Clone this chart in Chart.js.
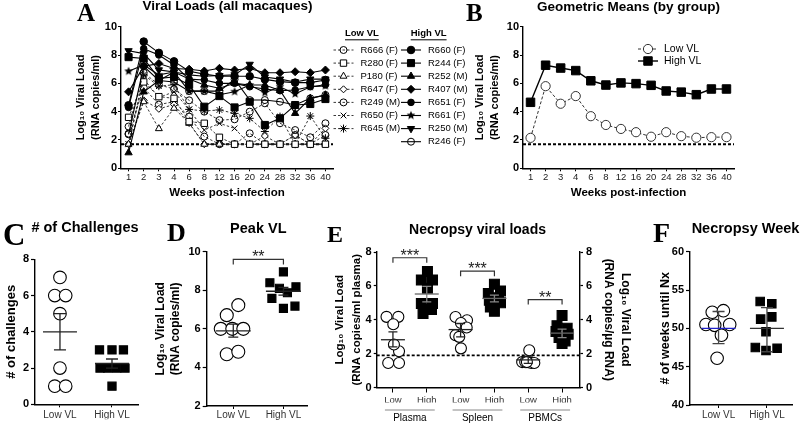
<!DOCTYPE html>
<html>
<head>
<meta charset="utf-8">
<title>Viral loads</title>
<script src="https://cdn.jsdelivr.net/npm/chart.js"></script>
<style>
html, body { margin: 0; padding: 0; background: #fff; }
#fig { position: relative; width: 800px; height: 424px; overflow: hidden; font-family: 'Liberation Sans', Arial, sans-serif; }
#fig canvas { position: absolute; left: 0; top: 0; }
.letter { position: absolute; font-family: 'Liberation Serif', 'Times New Roman', serif; font-weight: bold; line-height: 1; white-space: nowrap; }
.title { position: absolute; font-weight: bold; line-height: 1; white-space: nowrap; text-align: center; width: 200px; }
</style>
</head>
<body>
<div id="fig">
  <canvas id="chartA" width="800" height="424"></canvas>
  <canvas id="chartB" width="800" height="424"></canvas>
  <canvas id="chartC" width="800" height="424"></canvas>
  <canvas id="chartD" width="800" height="424"></canvas>
  <canvas id="chartE" width="800" height="424"></canvas>
  <canvas id="chartF" width="800" height="424"></canvas>

  <div class="letter" style="left:77px;top:0px;font-size:25px">A</div>
  <div class="letter" style="left:466px;top:0px;font-size:25px">B</div>
  <div class="letter" style="left:3px;top:219px;font-size:31px">C</div>
  <div class="letter" style="left:167px;top:220px;font-size:26px">D</div>
  <div class="letter" style="left:327px;top:222px;font-size:24px">E</div>
  <div class="letter" style="left:653px;top:218.5px;font-size:28px">F</div>

  <div class="title" style="left:127.5px;top:-1px;font-size:13.5px">Viral Loads (all macaques)</div>
  <div class="title" style="left:528.5px;top:-0.5px;font-size:13.5px">Geometric Means (by group)</div>
  <div class="title" style="left:-15px;top:220.4px;font-size:14.5px"># of Challenges</div>
  <div class="title" style="left:158.3px;top:221px;font-size:14.5px">Peak VL</div>
  <div class="title" style="left:377.5px;top:222.4px;font-size:14px">Necropsy viral loads</div>
  <div class="title" style="left:645.5px;top:221px;font-size:14.5px">Necropsy Week</div>
</div>

<script>
// ---- data ----
const weeks = ['1', '2', '3', '4', '6', '8', '12', '16', '20', '24', '28', '32', '36', '40'];
const lod = 1.7;

// Low VL animals (log10 copies/ml)
const r666 = [2.95, 6.75, 5.9, 5.6, 4.8, 4.0, 3.4, 3.46, 4.0, 4.59, 3.18, 2.7, 2.19, 3.18];
const r280 = [3.6, 6.1, 5.06, 4.94, 3.3, 3.18, 2.19, 1.7, 1.7, 1.7, 1.7, 1.7, 1.7, 1.7];
const p180 = [1.7, 4.7, 2.8, 4.24, 3.18, 1.7, 1.7, 1.7, 1.7, 1.7, 1.7, 1.7, 1.7, 1.7];
const r647 = [1.7, 4.8, 4.2, 4.5, 3.2, 1.7, 1.7, 1.7, 1.7, 2.28, 1.7, 2.35, 1.7, 2.82];
const r249 = [2.45, 5.7, 4.5, 4.7, 3.65, 2.24, 1.7, 1.7, 2.47, 1.7, 1.7, 2.35, 1.7, 2.35];
const r650 = [1.7, 6.3, 5.0, 5.4, 4.16, 2.7, 3.18, 2.82, 1.7, 1.7, 1.7, 1.7, 1.7, 1.7];
const r645 = [1.7, 6.6, 5.8, 5.9, 4.16, 4.05, 4.12, 3.88, 3.53, 2.6, 3.65, 1.7, 3.69, 2.12];

// High VL animals
const r660 = [4.45, 8.95, 8.15, 7.55, 6.85, 6.65, 6.5, 6.5, 6.5, 6.28, 6.12, 6.05, 6.05, 6.24];
const r244 = [7.85, 7.75, 6.35, 6.45, 5.9, 4.35, 5.1, 4.3, 4.7, 3.06, 3.53, 4.47, 4.54, 4.89];
const r252 = [1.1, 5.4, 6.2, 6.8, 6.3, 5.88, 5.65, 6.0, 5.88, 5.88, 5.5, 3.88, 4.94, 5.18];
const r407 = [5.4, 7.2, 7.4, 7.05, 7.0, 6.87, 7.06, 6.94, 7.05, 6.75, 6.75, 6.82, 6.75, 6.94];
const r651 = [4.3, 8.45, 8.0, 7.3, 6.3, 6.24, 6.0, 6.0, 5.76, 5.6, 5.48, 5.53, 5.76, 5.9];
const r661 = [6.85, 7.3, 6.6, 6.8, 5.45, 5.45, 5.2, 5.41, 5.88, 5.34, 5.76, 5.25, 5.76, 5.81];
const r250 = [8.3, 8.1, 6.95, 6.8, 6.6, 6.5, 6.55, 6.6, 7.34, 6.45, 6.3, 6.1, 6.3, 6.3];
const r246 = [2.4, 7.2, 6.2, 6.1, 5.45, 5.45, 5.45, 6.28, 4.82, 4.82, 4.7, 4.47, 4.94, 5.18];

const lowNames = ['R666 (F)', 'R280 (F)', 'P180 (F)', 'R647 (F)', 'R249 (M)', 'R650 (F)', 'R645 (M)'];
const highNames = ['R660 (F)', 'R244 (F)', 'R252 (M)', 'R407 (M)', 'R651 (F)', 'R661 (F)', 'R250 (M)', 'R246 (F)'];
const lowSeries = [r666, r280, p180, r647, r249, r650, r645];
const highSeries = [r660, r244, r252, r407, r651, r661, r250, r246];

// geometric means by group
const gmLow = [2.15, 5.8, 4.56, 5.1, 3.68, 3.06, 2.78, 2.55, 2.23, 2.55, 2.27, 2.16, 2.2, 2.2];
const gmHigh = [4.66, 7.28, 7.08, 6.9, 6.18, 5.88, 6.03, 5.98, 5.86, 5.46, 5.38, 5.2, 5.6, 5.6];

const groupCats = ['Low VL', 'High VL'];

// C: number of challenges
const challLow = [7, 6, 6, 5, 2, 1, 1];
const challHigh = [3, 3, 3, 2, 2, 2, 2, 1];
const challMean = [4, 2.25];
const challSemLo = [3, 2.0];
const challSemHi = [5, 2.5];

// D: peak VL
const peakLow = [7.23, 6.71, 6.0, 6.0, 6.0, 4.68, 4.81];
const peakHigh = [8.95, 8.39, 8.1, 8.18, 7.58, 7.87, 7.06, 7.18];
const peakMean = [5.9, 7.95];
const peakSemLo = [5.57, 7.75];
const peakSemHi = [6.25, 8.15];

// E: necropsy viral loads
const tissues = ['Plasma', 'Spleen', 'PBMCs'];
const levels = ['Low', 'High'];
const plasmaLow = [4.17, 4.17, 3.73, 2.14, 2.54, 1.45, 1.45];
const plasmaHigh = [6.85, 6.35, 6.35, 5.86, 4.96, 4.96, 4.37, 4.6];
const spleenLow = [4.16, 3.97, 3.81, 3.09, 3.54, 2.99, 2.31];
const spleenHigh = [6.1, 5.7, 5.55, 5.3, 5.15, 5.0, 4.75, 4.5];
const pbmcLow = [2.2, 1.5, 1.5, 1.5, 1.45, 1.45, 1.5];
const pbmcHigh = [4.25, 3.65, 3.5, 3.3, 3.15, 2.95, 2.75, 2.6];
const necMean = [2.82, 5.52, 3.42, 5.26, 1.63, 3.21];
const necSemLo = [2.4, 5.05, 2.99, 5.05, 1.42, 2.95];
const necSemHi = [3.28, 5.97, 3.78, 5.45, 1.85, 3.45];
const necLod = 1.9;

// F: necropsy week
const weekLow = [52.1, 52.3, 50.5, 50.4, 50.5, 49.1, 46.1];
const weekHigh = [53.5, 53.2, 51.2, 51.5, 49.56, 47.5, 47.1, 47.4];
const weekMean = [50.0, 50.0];
const weekSdLo = [48.0, 46.95];
const weekSdHi = [52.2, 52.7];

// horizontal scatter of the dots (category units)
const challLowJit = [0, -0.1, 0.11, 0, 0, -0.1, 0.11];
const challHighJit = [-0.24, 0, 0.22, -0.23, -0.08, 0.09, 0.25, 0];
const peakLowJit = [0.1, -0.13, -0.25, -0.02, 0.2, -0.13, 0.1];
const peakHighJit = [0, -0.27, -0.08, 0.25, -0.23, 0.08, 0, 0.23];
const plasmaLowJit = [-0.19, 0.16, 0.01, 0.18, 0.03, -0.14, 0.18];
const plasmaHighJit = [0.02, -0.16, 0.17, 0.02, -0.16, 0.17, -0.11, 0.14];
const spleenLowJit = [-0.15, 0.19, 0.01, -0.15, 0.18, -0.04, 0.01];
const spleenHighJit = [0, 0.18, -0.18, 0.12, -0.15, 0.18, -0.12, 0];
const pbmcLowJit = [0.03, -0.18, -0.09, 0, 0.09, 0.18, -0.04];
const pbmcHighJit = [0, -0.15, 0.15, -0.18, 0.18, -0.09, 0.09, 0];
const weekLowJit = [-0.13, 0.1, -0.26, -0.08, 0.23, 0.06, -0.03];
const weekHighJit = [-0.14, 0.1, -0.13, 0.1, -0.02, -0.24, -0.02, 0.21];

// ---- setup ----
const FONT = "'Liberation Sans', Arial, sans-serif";
Chart.defaults.font.family = FONT;
Chart.defaults.color = '#000';
Chart.defaults.animation = false;
Chart.defaults.responsive = false;
Chart.defaults.plugins.legend.display = false;
Chart.defaults.plugins.tooltip.enabled = false;

const zeroPad = s => { s.paddingTop = s.paddingBottom = s.paddingLeft = s.paddingRight = 0; };

function yScale(o) {
    return {
        type: 'linear', position: o.pos || 'left', min: o.min, max: o.max,
        ticks: { stepSize: o.step, font: { size: 11, weight: 'bold' }, color: '#000', padding: o.pad },
        grid: { drawOnChartArea: false, drawTicks: true, tickLength: o.tick, color: '#000', tickWidth: 1.2 },
        border: { color: '#000', width: 1.4 },
        title: { display: true, text: o.title, color: '#000', padding: 0, font: { size: o.tsize, weight: 'bold', lineHeight: o.lh } },
        afterFit(s) { s.width = o.w; zeroPad(s); }
    };
}

function catX(h) {
    return {
        type: 'category', offset: true,
        ticks: { font: { size: 9.5 }, color: '#222', padding: 0.5, autoSkip: false, maxRotation: 0 },
        grid: { drawOnChartArea: false, tickLength: 3, color: '#000', offset: false },
        border: { color: '#000', width: 1.4 },
        title: { display: true, text: 'Weeks post-infection', color: '#000', padding: 0, font: { size: 11.5, weight: 'bold', lineHeight: 1.2 } },
        afterFit(s) { s.height = h; zeroPad(s); }
    };
}

function dotX(cats, o) {
    return {
        type: 'linear', min: o.min, max: o.max,
        afterBuildTicks(s) { s.ticks = cats.map((c, i) => ({ value: i })); },
        ticks: { callback: v => cats[Math.round(v)], font: { size: o.fs || 10 }, color: '#333', padding: o.pad, autoSkip: false, maxRotation: 0 },
        grid: { drawOnChartArea: false, tickLength: o.tick, color: '#000' },
        border: { color: '#000', width: 1.4 },
        afterFit(s) { s.height = o.h; zeroPad(s); }
    };
}

function dots(vals, jit, cat, shape, r, fill, axis) {
    return {
        type: 'scatter', yAxisID: axis || 'y', clip: false,
        data: vals.map((v, i) => ({ x: cat + jit[i], y: v })),
        pointStyle: shape, pointRadius: r, pointBackgroundColor: fill,
        pointBorderColor: '#000', pointBorderWidth: 1.1, showLine: false
    };
}

function starImg(r) {
    const c = document.createElement('canvas');
    const s = Math.ceil(r * 2) + 2;
    c.width = c.height = s;
    const g = c.getContext('2d');
    g.fillStyle = '#000';
    g.beginPath();
    for (let i = 0; i < 10; i++) {
        const a = -Math.PI / 2 + i * Math.PI / 5;
        const rr = i % 2 ? r * 0.45 : r;
        g.lineTo(s / 2 + rr * Math.cos(a), s / 2 + rr * Math.sin(a));
    }
    g.closePath();
    g.fill();
    return c;
}

// ---- plugins ----
const refLine = {
    id: 'refLine',
    beforeDatasetsDraw(chart, args, o) {
        if (o.value == null) return;
        const { ctx, chartArea } = chart;
        const y = chart.scales[o.axis || 'y'].getPixelForValue(o.value);
        ctx.save();
        ctx.strokeStyle = '#000';
        ctx.lineWidth = 1.8;
        ctx.setLineDash([3, 2]);
        ctx.beginPath();
        ctx.moveTo(chartArea.left, y);
        ctx.lineTo(chartArea.right, y);
        ctx.stroke();
        ctx.restore();
    }
};

const meanBars = {
    id: 'meanBars',
    afterDatasetsDraw(chart, args, o) {
        if (!o.items) return;
        const ctx = chart.ctx;
        const xs = chart.scales.x;
        ctx.save();
        ctx.lineWidth = 1.3;
        o.items.forEach(it => {
            const ys = chart.scales[it.axis || 'y'];
            const x = xs.getPixelForValue(it.cat);
            const ym = ys.getPixelForValue(it.mean);
            const y1 = ys.getPixelForValue(it.lo);
            const y2 = ys.getPixelForValue(it.hi);
            ctx.strokeStyle = it.barColor || '#222';
            ctx.beginPath();
            ctx.moveTo(x, y1); ctx.lineTo(x, y2);
            ctx.moveTo(x - o.cap, y1); ctx.lineTo(x + o.cap, y1);
            ctx.moveTo(x - o.cap, y2); ctx.lineTo(x + o.cap, y2);
            ctx.stroke();
            ctx.strokeStyle = it.meanColor || '#222';
            ctx.beginPath();
            ctx.moveTo(x - o.half, ym); ctx.lineTo(x + o.half, ym);
            ctx.stroke();
        });
        ctx.restore();
    }
};

const sigBars = {
    id: 'sigBars',
    afterDatasetsDraw(chart, args, o) {
        if (!o.items) return;
        const ctx = chart.ctx;
        const xs = chart.scales.x;
        ctx.save();
        o.items.forEach(it => {
            const ys = chart.scales[it.axis || 'y'];
            const x1 = xs.getPixelForValue(it.from), x2 = xs.getPixelForValue(it.to);
            const y = ys.getPixelForValue(it.level);
            ctx.strokeStyle = '#333';
            ctx.lineWidth = 1.2;
            ctx.beginPath();
            ctx.moveTo(x1, y + 5); ctx.lineTo(x1, y); ctx.lineTo(x2, y); ctx.lineTo(x2, y + 5);
            ctx.stroke();
            ctx.fillStyle = '#222';
            ctx.font = '16px ' + FONT;
            ctx.textAlign = 'center';
            ctx.textBaseline = 'alphabetic';
            ctx.fillText(it.text, (x1 + x2) / 2, y + 3);
        });
        ctx.restore();
    }
};

const groupAxis = {
    id: 'groupAxis',
    afterDraw(chart, args, o) {
        if (!o.groups) return;
        const ctx = chart.ctx;
        const xs = chart.scales.x;
        const base = chart.chartArea.bottom;
        ctx.save();
        o.groups.forEach(g => {
            const x1 = xs.getPixelForValue(g.from) - 8, x2 = xs.getPixelForValue(g.to) + 8;
            ctx.strokeStyle = '#888';
            ctx.lineWidth = 1;
            ctx.beginPath();
            ctx.moveTo(x1, base + 22.5); ctx.lineTo(x2, base + 22.5);
            ctx.stroke();
            ctx.fillStyle = '#000';
            ctx.font = '10px ' + FONT;
            ctx.textAlign = 'center';
            ctx.textBaseline = 'middle';
            ctx.fillText(g.label, (x1 + x2) / 2, base + 31);
        });
        ctx.restore();
    }
};

const lineLegend = {
    id: 'lineLegend',
    afterDraw(chart, args, o) {
        if (!o.items) return;
        const ctx = chart.ctx;
        ctx.save();
        ctx.textAlign = 'left';
        ctx.textBaseline = 'middle';
        (o.headers || []).forEach(h => {
            ctx.font = 'bold ' + o.size + 'px ' + FONT;
            ctx.fillStyle = '#000';
            ctx.fillText(h.text, h.x, h.y);
            const w = ctx.measureText(h.text).width;
            ctx.fillRect(h.x, h.y + 6, w, 1);
        });
        o.items.forEach(it => {
            const ds = chart.data.datasets[it.ds];
            ctx.strokeStyle = ds.borderColor;
            ctx.lineWidth = ds.borderWidth;
            ctx.setLineDash(ds.borderDash || []);
            ctx.beginPath();
            ctx.moveTo(it.x - 10, it.y); ctx.lineTo(it.x + 10, it.y);
            ctx.stroke();
            ctx.setLineDash([]);
            ctx.fillStyle = ds.pointBackgroundColor;
            ctx.strokeStyle = ds.pointBorderColor;
            ctx.lineWidth = ds.pointBorderWidth;
            Chart.helpers.drawPoint(ctx, {
                pointStyle: ds.pointStyle, rotation: ds.pointRotation || 0,
                radius: ds.pointRadius, borderWidth: ds.pointBorderWidth
            }, it.x, it.y);
            ctx.fillStyle = '#000';
            ctx.font = o.size + 'px ' + FONT;
            ctx.fillText(ds.label, it.x + o.dx, it.y);
        });
        ctx.restore();
    }
};

Chart.register(refLine, meanBars, sigBars, groupAxis, lineLegend);

// ---- A: all animals ----
const clear = 'rgba(255,255,255,0)';
const lowStyles = [
    { s: 'circle', r: 3.5, f: clear }, { s: 'rect', r: 4.5, f: '#fff' }, { s: 'triangle', r: 4, f: '#fff' },
    { s: 'rectRot', r: 3.5, f: '#fff' }, { s: 'circle', r: 3.5, f: clear }, { s: 'crossRot', r: 4, f: '#fff' },
    { s: 'star', r: 4, f: '#fff' }
];
const highStyles = [
    { s: 'circle', r: 3.8, f: '#000' }, { s: 'rect', r: 5, f: '#000' }, { s: 'triangle', r: 4.2, f: '#000' },
    { s: 'rectRot', r: 4, f: '#000' }, { s: 'circle', r: 3.3, f: '#000' }, { s: starImg(4.6), r: 4.6, f: '#000' },
    { s: 'triangle', r: 4.2, f: '#000', rot: 180 }, { s: 'circle', r: 3.5, f: clear }
];

const dsA = [];
highSeries.forEach((vals, i) => {
    const st = highStyles[i];
    dsA.push({
        label: highNames[i], data: vals, borderColor: '#000', borderWidth: 1.1,
        pointStyle: st.s, pointRadius: st.r, pointRotation: st.rot || 0, pointBackgroundColor: st.f,
        pointBorderColor: '#000', pointBorderWidth: 1, clip: false, tension: 0
    });
});
lowSeries.forEach((vals, i) => {
    const st = lowStyles[i];
    dsA.push({
        label: lowNames[i], data: vals, borderColor: '#222', borderWidth: 0.9, borderDash: [2.5, 2],
        pointStyle: st.s, pointRadius: st.r, pointBackgroundColor: st.f,
        pointBorderColor: '#000', pointBorderWidth: 1, clip: false, tension: 0
    });
});

const legendA = [];
lowNames.forEach((n, i) => legendA.push({ ds: highNames.length + i, x: 343.5, y: 50 + 13.1 * i }));
highNames.forEach((n, i) => legendA.push({ ds: i, x: 411, y: 50 + 13.1 * i }));

new Chart(document.getElementById('chartA'), {
    type: 'line',
    data: { labels: weeks, datasets: dsA },
    options: {
        layout: { padding: { left: 121 - 48.2, top: 26.7, right: 800 - 333, bottom: 424 - 168.3 - 31.3 } },
        scales: {
            x: catX(31.3),
            y: yScale({ min: 0, max: 10, step: 2, tick: 3, pad: 1, w: 48.2, tsize: 11, lh: 1.4,
                title: ['Log\u2081\u2080 Viral Load', '(RNA copies/ml)'] })
        },
        plugins: {
            refLine: { value: lod },
            lineLegend: {
                size: 9.5, dx: 17, items: legendA,
                headers: [{ text: 'Low VL', x: 345, y: 33.3 }, { text: 'High VL', x: 410.7, y: 33.3 }]
            }
        }
    }
});

// ---- B: geometric means ----
new Chart(document.getElementById('chartB'), {
    type: 'line',
    data: {
        labels: weeks,
        datasets: [
            { label: 'Low VL', data: gmLow, borderColor: '#333', borderWidth: 1, borderDash: [3, 2],
              pointStyle: 'circle', pointRadius: 4.6, pointBackgroundColor: '#fff', pointBorderColor: '#333', pointBorderWidth: 1, clip: false },
            { label: 'High VL', data: gmHigh, borderColor: '#000', borderWidth: 1.4,
              pointStyle: 'rect', pointRadius: 6, pointBackgroundColor: '#000', pointBorderColor: '#000', pointBorderWidth: 1, clip: false }
        ]
    },
    options: {
        layout: { padding: { left: 523 - 50.7, top: 26.7, right: 800 - 734, bottom: 424 - 168.3 - 31.3 } },
        scales: {
            x: catX(31.3),
            y: yScale({ min: 0, max: 10, step: 2, tick: 3, pad: 1, w: 50.7, tsize: 11, lh: 1.4,
                title: ['Log\u2081\u2080 Viral Load', '(RNA copies/ml)'] })
        },
        plugins: {
            refLine: { value: lod },
            lineLegend: { size: 10.5, dx: 16, items: [{ ds: 0, x: 648, y: 49 }, { ds: 1, x: 648, y: 61 }] }
        }
    }
});

// ---- C: challenges ----
new Chart(document.getElementById('chartC'), {
    type: 'scatter',
    data: { datasets: [
        dots(challLow, challLowJit, 0, 'circle', 6.3, '#fff'),
        dots(challHigh, challHighJit, 1, 'rect', 5.8, '#000')
    ] },
    options: {
        layout: { padding: { left: 35 - 31.8, top: 259.3, right: 800 - 138, bottom: 424 - 404.3 - 15 } },
        scales: {
            x: dotX(groupCats, { min: -0.48, max: 1.5, h: 15, tick: 3, pad: 1.5 }),
            y: yScale({ min: 0, max: 8, step: 2, tick: 4, pad: 2, w: 31.8, tsize: 13, lh: 1.2, title: '# of challenges' })
        },
        plugins: {
            meanBars: { half: 17, cap: 6, items: groupCats.map((c, i) => ({ cat: i, mean: challMean[i], lo: challSemLo[i], hi: challSemHi[i] })) }
        }
    }
});

// ---- D: peak VL ----
new Chart(document.getElementById('chartD'), {
    type: 'scatter',
    data: { datasets: [
        dots(peakLow, peakLowJit, 0, 'circle', 6.5, '#fff'),
        dots(peakHigh, peakHighJit, 1, 'rect', 5.7, '#000')
    ] },
    options: {
        layout: { padding: { left: 206.7 - 52.9, top: 251.7, right: 800 - 308, bottom: 424 - 406 - 15 } },
        scales: {
            x: dotX(groupCats, { min: -0.53, max: 1.49, h: 15, tick: 3, pad: 0 }),
            y: yScale({ min: 2, max: 10, step: 2, tick: 4, pad: 2, w: 52.9, tsize: 12, lh: 1.2,
                title: ['Log\u2081\u2080 Viral Load', '(RNA copies/ml)'] })
        },
        plugins: {
            meanBars: { half: 17.5, cap: 5, items: groupCats.map((c, i) => ({ cat: i, mean: peakMean[i], lo: peakSemLo[i], hi: peakSemHi[i] })) },
            sigBars: { items: [{ from: 0, to: 1, level: 9.6, text: '**' }] }
        }
    }
});

// ---- E: necropsy viral loads ----
const necCats = [];
tissues.forEach(() => levels.forEach(l => necCats.push(l)));
new Chart(document.getElementById('chartE'), {
    type: 'scatter',
    data: { datasets: [
        dots(plasmaLow, plasmaLowJit, 0, 'circle', 5.5, '#fff', 'y'),
        dots(plasmaHigh, plasmaHighJit, 1, 'rect', 7, '#000', 'y'),
        dots(spleenLow, spleenLowJit, 2, 'circle', 5.5, '#fff', 'y2'),
        dots(spleenHigh, spleenHighJit, 3, 'rect', 7, '#000', 'y2'),
        dots(pbmcLow, pbmcLowJit, 4, 'circle', 5.5, '#fff', 'y2'),
        dots(pbmcHigh, pbmcHighJit, 5, 'rect', 7, '#000', 'y2')
    ] },
    options: {
        layout: { padding: { left: 376.7 - 45.3, top: 252, right: 800 - 580 - 53.5, bottom: 424 - 387.5 - 15 } },
        scales: {
            x: dotX(necCats, { min: -0.48, max: 5.53, h: 15, tick: 5, pad: 2, fs: 9.5 }),
            y: yScale({ min: 0, max: 8, step: 2, tick: 3, pad: 2, w: 45.3, tsize: 11.5, lh: 1.45,
                title: ['Log\u2081\u2080 Viral Load', '(RNA copies/ml plasma)'] }),
            y2: yScale({ pos: 'right', min: 0, max: 8, step: 2, tick: 3, pad: 3, w: 53.5, tsize: 12, lh: 1.42,
                title: ['Log\u2081\u2080 Viral Load', '(RNA copies/\u00b5g RNA)'] })
        },
        plugins: {
            refLine: { value: necLod },
            meanBars: { half: 12, cap: 4.5, items: necCats.map((c, i) => ({
                cat: i, mean: necMean[i], lo: necSemLo[i], hi: necSemHi[i], axis: i < 2 ? 'y' : 'y2',
                barColor: i % 2 ? '#888' : '#222', meanColor: i % 2 ? '#666' : '#222' })) },
            sigBars: { items: [
                { from: 0, to: 1, level: 7.66, text: '***' },
                { from: 2, to: 3, level: 6.87, text: '***' },
                { from: 4, to: 5, level: 5.19, text: '**' }
            ] },
            groupAxis: { groups: tissues.map((t, i) => ({ from: 2 * i, to: 2 * i + 1, label: t })) }
        }
    }
});

// ---- F: necropsy week ----
new Chart(document.getElementById('chartF'), {
    type: 'scatter',
    data: { datasets: [
        dots(weekLow, weekLowJit, 0, 'circle', 6.3, '#fff'),
        dots(weekHigh, weekHighJit, 1, 'rect', 6, '#000')
    ] },
    options: {
        layout: { padding: { left: 690 - 32, top: 251.7, right: 1, bottom: 424 - 405 - 15 } },
        scales: {
            x: dotX(groupCats, { min: -0.59, max: 1.53, h: 15, tick: 3, pad: 1 }),
            y: yScale({ min: 40, max: 60, step: 5, tick: 4, pad: 2, w: 32, tsize: 12.5, lh: 1.2, title: '# of weeks until Nx' })
        },
        plugins: {
            meanBars: { half: 17, cap: 6, items: groupCats.map((c, i) => ({
                cat: i, mean: weekMean[i], lo: weekSdLo[i], hi: weekSdHi[i],
                barColor: '#444', meanColor: i === 0 ? '#2222cc' : '#333' })) }
        }
    }
});
</script>
</body>
</html>
